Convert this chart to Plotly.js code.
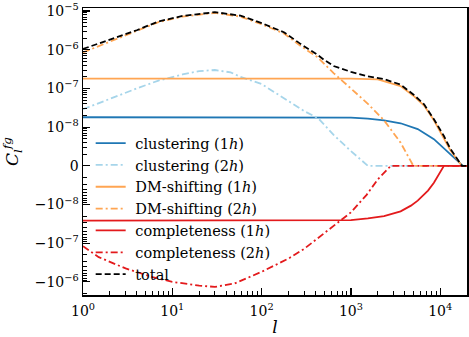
<!DOCTYPE html>
<html>
<head>
<meta charset="utf-8">
<script src="https://cdn.plot.ly/plotly-3.0.1.min.js"></script>
<style>
html, body { margin: 0; padding: 0; background: #fff; }
#plot { width: 469px; height: 337px; }
</style>
</head>
<body>
<div id="plot"></div>
<script>
// 各成分の値
const clus1hL = [1, 10, 100, 700, 1000, 1550, 2350, 3600, 5600, 8500, 11000, 13000, 16000, 18000, 20000];
const clus1hV = [1.8e-8, 1.8e-8, 1.8e-8, 1.79e-8, 1.76e-8, 1.66e-8, 1.5e-8, 1.26e-8, 9.5e-9, 6.9e-9, 4.6e-9, 3.1e-9, 1.3e-9, 0, 0];

const clus2hL = [1, 2, 4, 7, 13, 20, 30, 45, 58, 100, 180, 300, 430, 640, 1000, 1550, 20000];
const clus2hV = [2.9e-8, 5.5e-8, 1e-7, 1.6e-7, 2.3e-7, 2.8e-7, 3e-7, 2.6e-7, 2e-7, 1.3e-7, 5.5e-8, 2.6e-8, 1.7e-8, 8e-9, 3.8e-9, 0, 0];

const dm1hL = [1, 100, 1000, 2000, 3600, 5000, 6600, 8500, 11000, 13000, 16000, 17500, 20000];
const dm1hV = [1.8e-7, 1.8e-7, 1.79e-7, 1.72e-7, 1.15e-7, 6.5e-8, 3.6e-8, 1.5e-8, 7e-9, 4e-9, 1.2e-9, 0, 0];

const dm2hL = [1, 2, 4, 7, 13, 30, 58, 100, 180, 275, 420, 640, 1000, 1550, 2350, 3600, 5000, 20000];
const dm2hV = [8.5e-7, 1.6e-6, 3e-6, 5.2e-6, 7.2e-6, 9e-6, 7.2e-6, 4.6e-6, 2.6e-6, 1.25e-6, 6.5e-7, 2.5e-7, 1e-7, 4e-8, 1.5e-8, 6e-9, 0, 0];

const comp1hL = [1, 100, 1000, 1550, 2350, 3600, 4700, 5600, 7300, 8500, 10000, 11000, 20000];
const comp1hV = [-2.6e-8, -2.6e-8, -2.55e-8, -2.3e-8, -2.0e-8, -1.5e-8, -1.07e-8, -9e-9, -6.4e-9, -4.4e-9, -1.8e-9, 0, 0];

const comp2hL = [1, 1.5, 3, 6, 10, 20, 30, 50, 100, 200, 300, 500, 750, 1000, 1500, 2000, 2800, 20000];
const comp2hV = [-1.2e-7, -2.3e-7, -4.5e-7, -7.5e-7, -1e-6, -1.25e-6, -1.35e-6, -1.1e-6, -5.5e-7, -2.5e-7, -1.4e-7, -5.5e-8, -2.6e-8, -1.6e-8, -7.5e-9, -3.5e-9, 0, 0];

const totalL = [1, 2, 4, 7, 13, 30, 58, 100, 180, 275, 350, 420, 500, 640, 1000, 1550, 2350, 3600, 5000, 6600, 8500, 11000, 13000, 16000, 17500, 20000];
const totalV = [1.05e-6, 1.8e-6, 3.2e-6, 5.4e-6, 7.5e-6, 9.4e-6, 7.6e-6, 4.9e-6, 2.8e-6, 1.4e-6, 1e-6, 7.5e-7, 5.5e-7, 3.8e-7, 2.7e-7, 2.05e-7, 1.75e-7, 1.25e-7, 7e-8, 3.9e-8, 1.6e-8, 7.7e-9, 4.4e-9, 1.3e-9, 0, 0];

// 軸の目盛り
const xTickVals = [1, 10, 100, 1000, 10000];
const xTickText = ['10<sup>0</sup>', '10<sup>1</sup>', '10<sup>2</sup>', '10<sup>3</sup>', '10<sup>4</sup>'];
const yTickVals = [-3, -2, -1, 0, 1, 2, 3, 4];
const yTickText = ['−10<sup>−6</sup>', '−10<sup>−7</sup>', '−10<sup>−8</sup>', '0',
    '10<sup>−8</sup>', '10<sup>−7</sup>', '10<sup>−6</sup>', '10<sup>−5</sup>'];

// symlog変換（linthresh = 1e-8）
const LINTHRESH = 1e-8;
function symlog(v) {
    const a = Math.abs(v);
    if (a <= LINTHRESH) return v / LINTHRESH;
    return Math.sign(v) * (1 + Math.log10(a / LINTHRESH));
}

// 副目盛り
const xMinor = [];
for (let k = 0; k <= 4; k++) {
    for (let m = 2; m <= 9; m++) {
        const v = m * Math.pow(10, k);
        if (v < 19900) xMinor.push(v);
    }
}
const yMinor = [];
for (let j = 0; j <= 3; j++) {
    for (let m = 2; m <= 9; m++) {
        const t = j + Math.log10(m);
        if (t < 4.08) yMinor.push(t);
        if (t < 3.34) yMinor.push(-t);
    }
}

const DASHDOT = '7px,3px,2px,3px';
const BLUE = '#1f77b4';
const LIGHTBLUE = '#a6d5ea';
const ORANGE = '#ffa552';
const RED = '#e31a1c';
const SERIF = 'DejaVu Serif';
const GAP = '\u00a0';

function makeTrace(l, v, name, color, dash) {
    return {
        x: l,
        y: v.map(symlog),
        type: 'scatter',
        mode: 'lines',
        name: GAP + name,
        line: { color: color, width: 1.8, dash: dash }
    };
}

const traces = [
    makeTrace(clus1hL, clus1hV, 'clustering (1<i>h</i>)', BLUE, 'solid'),
    makeTrace(clus2hL, clus2hV, 'clustering (2<i>h</i>)', LIGHTBLUE, DASHDOT),
    makeTrace(dm1hL, dm1hV, 'DM-shifting (1<i>h</i>)', ORANGE, 'solid'),
    makeTrace(dm2hL, dm2hV, 'DM-shifting (2<i>h</i>)', ORANGE, DASHDOT),
    makeTrace(comp1hL, comp1hV, 'completeness (1<i>h</i>)', RED, 'solid'),
    makeTrace(comp2hL, comp2hV, 'completeness (2<i>h</i>)', RED, DASHDOT),
    makeTrace(totalL, totalV, 'total', '#000', '6px,3px')
];

const axisCommon = {
    ticks: 'inside',
    ticklen: 7,
    tickwidth: 1.2,
    tickcolor: '#000',
    showline: true,
    linewidth: 1.5,
    linecolor: '#000',
    mirror: true,
    showgrid: false,
    zeroline: false,
    automargin: false
};

const layout = {
    width: 469,
    height: 337,
    margin: { l: 83, r: 2, t: 8, b: 42 },
    paper_bgcolor: '#fff',
    plot_bgcolor: '#fff',
    font: { family: SERIF, size: 14, color: '#000' },
    showlegend: true,
    legend: {
        x: 0.02, y: 0.585, xanchor: 'left', yanchor: 'top',
        bgcolor: 'rgba(0,0,0,0)',
        font: { family: SERIF, size: 14.5 },
        tracegroupgap: 0
    },
    xaxis: Object.assign({}, axisCommon, {
        type: 'log',
        range: [0, 4.3],
        tickmode: 'array',
        tickvals: xTickVals,
        ticktext: xTickText,
        ticklabelstandoff: 3,
        minor: { tickvals: xMinor, ticks: 'inside', ticklen: 4, tickwidth: 1, tickcolor: '#000' },
        title: { text: '<i>l</i>', font: { family: SERIF, size: 17 }, standoff: 3 }
    }),
    yaxis: Object.assign({}, axisCommon, {
        range: [-3.34, 4.08],
        tickmode: 'array',
        tickvals: yTickVals,
        ticktext: yTickText,
        minor: { tickvals: yMinor, ticks: 'inside', ticklen: 4, tickwidth: 1, tickcolor: '#000' },
        title: { text: '<i>C</i><sub><i>l</i></sub><sup><i>fg</i></sup>', font: { family: SERIF, size: 17 }, standoff: 15 }
    })
};

Plotly.newPlot('plot', traces, layout, { staticPlot: true });
</script>
</body>
</html>
